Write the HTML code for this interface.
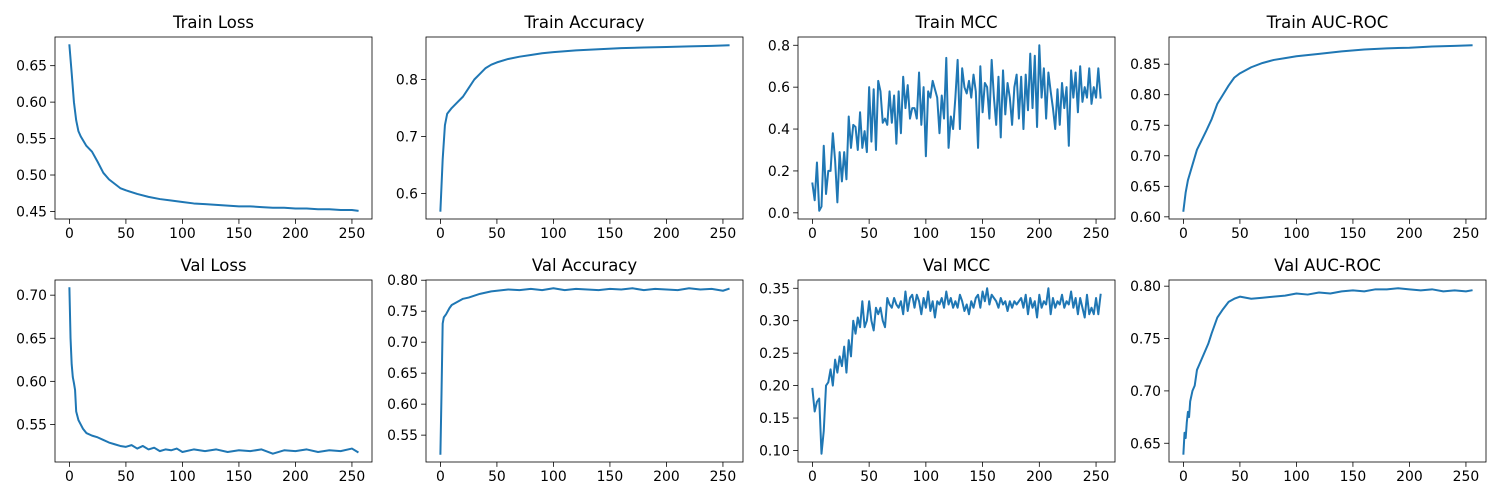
<!DOCTYPE html>
<html><head><meta charset="utf-8"><style>
html,body{margin:0;padding:0;background:#fff;}
svg{display:block;font-family:"DejaVu Sans","Liberation Sans",sans-serif;}
</style></head><body>
<svg id="fig" width="1500" height="500" viewBox="0 0 1500 500" xmlns="http://www.w3.org/2000/svg"></svg>
<script>
// ---- data ----
const trainLossEpochs=[0,2,4,6,8,10,15,20,25,30,35,40,45,50,60,70,80,90,100,110,120,130,140,150,160,170,180,190,200,210,220,230,240,250,255];
const trainLoss=[0.678,0.64,0.60,0.575,0.56,0.553,0.54,0.532,0.518,0.503,0.494,0.488,0.482,0.479,0.474,0.470,0.467,0.465,0.463,0.461,0.460,0.459,0.458,0.457,0.457,0.456,0.455,0.455,0.454,0.454,0.453,0.453,0.452,0.452,0.451];
const trainAccEpochs=[0,2,4,6,8,10,15,20,25,30,35,40,45,50,60,70,80,90,100,120,140,160,180,200,220,240,255];
const trainAcc=[0.57,0.66,0.72,0.74,0.745,0.75,0.76,0.77,0.785,0.80,0.81,0.82,0.826,0.83,0.836,0.84,0.843,0.846,0.848,0.851,0.853,0.855,0.856,0.857,0.858,0.859,0.86];
const trainMcc=[0.14,0.06,0.24,0.01,0.03,0.32,0.09,0.2,0.2,0.38,0.25,0.05,0.29,0.15,0.29,0.16,0.46,0.31,0.42,0.41,0.30,0.48,0.31,0.39,0.29,0.60,0.34,0.59,0.30,0.63,0.58,0.43,0.45,0.42,0.58,0.43,0.56,0.33,0.58,0.38,0.65,0.50,0.61,0.45,0.50,0.50,0.45,0.67,0.42,0.60,0.27,0.58,0.55,0.63,0.59,0.55,0.38,0.56,0.45,0.74,0.31,0.46,0.40,0.55,0.73,0.40,0.69,0.60,0.57,0.63,0.55,0.66,0.58,0.31,0.70,0.48,0.62,0.60,0.45,0.73,0.55,0.42,0.65,0.36,0.68,0.47,0.62,0.55,0.42,0.60,0.66,0.45,0.65,0.40,0.66,0.49,0.76,0.50,0.75,0.41,0.80,0.55,0.69,0.45,0.67,0.58,0.50,0.40,0.59,0.42,0.62,0.50,0.60,0.32,0.68,0.55,0.67,0.48,0.70,0.53,0.60,0.55,0.69,0.52,0.60,0.55,0.69,0.55];
const trainAucEpochs=[0,2,4,8,12,16,20,25,30,35,40,45,50,60,70,80,90,100,120,140,160,180,200,220,240,255];
const trainAuc=[0.61,0.64,0.66,0.685,0.71,0.725,0.74,0.76,0.785,0.80,0.815,0.828,0.835,0.845,0.852,0.857,0.86,0.863,0.867,0.871,0.874,0.876,0.877,0.879,0.88,0.881];
const valLossEpochs=[0,1,2,3,4,5,6,8,10,12,15,20,25,30,35,40,45,50,55,60,65,70,75,80,85,90,95,100,110,120,130,140,150,160,170,180,190,200,210,220,230,240,250,255];
const valLoss=[0.708,0.65,0.62,0.605,0.598,0.59,0.565,0.555,0.55,0.545,0.54,0.537,0.535,0.532,0.529,0.527,0.525,0.524,0.526,0.522,0.525,0.521,0.523,0.519,0.521,0.52,0.522,0.518,0.521,0.519,0.521,0.518,0.52,0.519,0.521,0.516,0.52,0.519,0.521,0.518,0.52,0.519,0.522,0.518];
const valAccEpochs=[0,1,2,3,5,8,10,15,20,25,30,35,40,45,50,60,70,80,90,100,110,120,130,140,150,160,170,180,190,200,210,220,230,240,250,255];
const valAcc=[0.52,0.62,0.73,0.74,0.745,0.755,0.76,0.765,0.77,0.772,0.775,0.778,0.78,0.782,0.783,0.785,0.784,0.786,0.784,0.787,0.784,0.786,0.785,0.784,0.786,0.785,0.787,0.784,0.786,0.785,0.784,0.787,0.785,0.786,0.783,0.786];
const valMcc=[0.195,0.16,0.175,0.18,0.095,0.13,0.20,0.205,0.225,0.20,0.24,0.22,0.245,0.23,0.26,0.22,0.27,0.245,0.30,0.28,0.305,0.29,0.33,0.29,0.30,0.33,0.30,0.285,0.32,0.31,0.32,0.30,0.29,0.335,0.325,0.32,0.335,0.325,0.32,0.33,0.31,0.345,0.315,0.335,0.34,0.32,0.34,0.33,0.31,0.335,0.32,0.345,0.315,0.33,0.305,0.33,0.325,0.335,0.32,0.345,0.325,0.335,0.32,0.33,0.32,0.34,0.33,0.315,0.325,0.31,0.33,0.32,0.335,0.34,0.32,0.345,0.33,0.35,0.325,0.34,0.335,0.33,0.32,0.335,0.325,0.33,0.315,0.33,0.32,0.33,0.325,0.33,0.335,0.32,0.34,0.31,0.335,0.32,0.33,0.305,0.34,0.32,0.33,0.325,0.35,0.31,0.335,0.32,0.33,0.325,0.34,0.32,0.33,0.325,0.345,0.32,0.335,0.31,0.335,0.32,0.305,0.34,0.31,0.32,0.31,0.335,0.31,0.34];
const valAucEpochs=[0,1,2,3,4,5,6,8,10,12,14,16,18,20,22,25,30,35,40,45,50,60,70,80,90,100,110,120,130,140,150,160,170,180,190,200,210,220,230,240,250,255];
const valAuc=[0.64,0.66,0.655,0.67,0.68,0.675,0.69,0.70,0.705,0.72,0.725,0.73,0.735,0.74,0.745,0.755,0.77,0.778,0.785,0.788,0.79,0.788,0.789,0.79,0.791,0.793,0.792,0.794,0.793,0.795,0.796,0.795,0.797,0.797,0.798,0.797,0.796,0.797,0.795,0.796,0.795,0.796];
const mccEpochs=trainMcc.map((_,i)=>i*2);
const valMccEpochs=valMcc.map((_,i)=>i*2);
const xTicks=[0,50,100,150,200,250];
const ticksTrainLoss=[0.45,0.50,0.55,0.60,0.65];
const ticksTrainAcc=[0.6,0.7,0.8];
const ticksTrainMcc=[0.0,0.2,0.4,0.6,0.8];
const ticksTrainAuc=[0.60,0.65,0.70,0.75,0.80,0.85];
const ticksValLoss=[0.55,0.60,0.65,0.70];
const ticksValAcc=[0.55,0.60,0.65,0.70,0.75,0.80];
const ticksValMcc=[0.10,0.15,0.20,0.25,0.30,0.35];
const ticksValAuc=[0.65,0.70,0.75,0.80];

const NS="http://www.w3.org/2000/svg";
const svg=document.getElementById('fig');
function mk(tag,attrs,parent){const e=document.createElementNS(NS,tag);for(const k in attrs)e.setAttribute(k,attrs[k]);(parent||svg).appendChild(e);return e;}

const panels=[
 {title:"Train Loss",xs:trainLossEpochs,ys:trainLoss,ticks:ticksTrainLoss,dec:2,col:0,row:0,name:"train-loss"},
 {title:"Train Accuracy",xs:trainAccEpochs,ys:trainAcc,ticks:ticksTrainAcc,dec:1,col:1,row:0,name:"train-accuracy"},
 {title:"Train MCC",xs:mccEpochs,ys:trainMcc,ticks:ticksTrainMcc,dec:1,col:2,row:0,name:"train-mcc"},
 {title:"Train AUC-ROC",xs:trainAucEpochs,ys:trainAuc,ticks:ticksTrainAuc,dec:2,col:3,row:0,name:"train-auc-roc"},
 {title:"Val Loss",xs:valLossEpochs,ys:valLoss,ticks:ticksValLoss,dec:2,col:0,row:1,name:"val-loss"},
 {title:"Val Accuracy",xs:valAccEpochs,ys:valAcc,ticks:ticksValAcc,dec:2,col:1,row:1,name:"val-accuracy"},
 {title:"Val MCC",xs:valMccEpochs,ys:valMcc,ticks:ticksValMcc,dec:2,col:2,row:1,name:"val-mcc"},
 {title:"Val AUC-ROC",xs:valAucEpochs,ys:valAuc,ticks:ticksValAuc,dec:2,col:3,row:1,name:"val-auc-roc"},
];
const lefts=[55,426,798,1169], W=317;
const tops=[37,280], H=182;

panels.forEach(p=>{
  const L=lefts[p.col], T=tops[p.row], B=T+H;
  const g=mk('g',{});
  
  
  const xmin=Math.min(...p.xs), xmax=Math.max(...p.xs), xm=(xmax-xmin)*0.05;
  const ymin=Math.min(...p.ys), ymax=Math.max(...p.ys), ym=(ymax-ymin)*0.05;
  const sx=v=>L+(v-(xmin-xm))/((xmax+xm)-(xmin-xm))*W;
  const sy=v=>B-(v-(ymin-ym))/((ymax+ym)-(ymin-ym))*H;
  const t=mk('text',{x:L+W/2,y:T-9,'text-anchor':'middle','font-size':'16.5',fill:'#000'},g);
  t.textContent=p.title;
  
  
  xTicks.forEach(v=>{
    const x=sx(v);
    mk('line',{x1:x,x2:x,y1:B,y2:B+4.9,stroke:'#000','stroke-width':'0.8'},g);
    const lt=mk('text',{x:x,y:B+19,'text-anchor':'middle','font-size':'13.9',fill:'#000'},g);
    lt.textContent=String(v);
    
    
  });
  p.ticks.forEach(v=>{
    const y=sy(v);
    mk('line',{x1:L-4.9,x2:L,y1:y,y2:y,stroke:'#000','stroke-width':'0.8'},g);
    const lt=mk('text',{x:L-8,y:y+5,'text-anchor':'end','font-size':'13.9',fill:'#000'},g);
    lt.textContent=v.toFixed(p.dec);
    
    
  });
  const d=p.xs.map((x,i)=>(i?'L':'M')+sx(x).toFixed(2)+' '+sy(p.ys[i]).toFixed(2)).join(' ');
  const line=mk('path',{d:d,fill:'none',stroke:'#1f77b4','stroke-width':'2','stroke-linejoin':'round','stroke-linecap':'square'},g);
  
  
  const fr=mk('rect',{x:L,y:T,width:W,height:H,fill:'none',stroke:'#000','stroke-width':'0.8'},g);
  
  
});
</script>
</body></html>
